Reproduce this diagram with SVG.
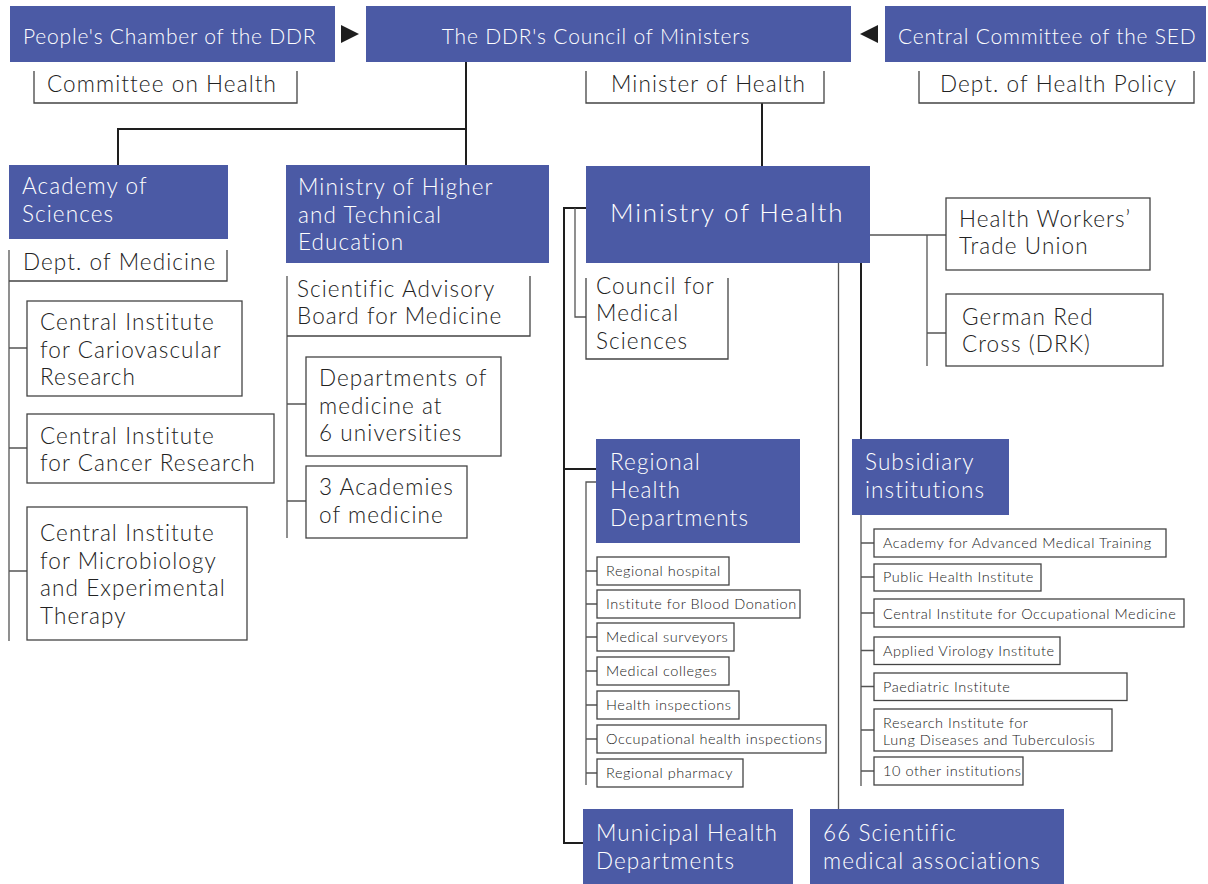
<svg xmlns="http://www.w3.org/2000/svg" width="1208" height="884" viewBox="0 0 1208 884">
<style>
.blue{fill:#4b5aa5}
.box{fill:#fff;stroke:#444;stroke-width:1.3}
.open{fill:none;stroke:#444;stroke-width:1.3}
text{font-family:Lato,"Open Sans",sans-serif;font-weight:300}
.w{fill:#fff}
.d{fill:#222}
.t21{font-size:21px;letter-spacing:0.8px}
.t22{font-size:22.5px;letter-spacing:1.1px}
.t26{font-size:26px;letter-spacing:1.8px}
.t15{font-size:14.5px;letter-spacing:0.55px}
.thick{stroke:#1e1e1e;stroke-width:2;fill:none}
.thin{stroke:#555;stroke-width:1.3;fill:none}
.arr{fill:#1e1e1e}
</style>
<rect width="1208" height="884" fill="#fff"/>
<g id="connectors">
<path class="thick" d="M466,62 V165 M466,129 H118 V165 M762,103 V166"/>
<path class="thin" d="M9,250 V641 M9,348 H27 M9,448 H27 M9,571 H27"/>
<path class="thin" d="M287,276 V538 M287,404 H306 M287,501 H306"/>
<path class="thick" d="M586,208 H564 V843 H583 M564,469 H596 M861,263 V439"/>
<path class="thin" d="M575,208 V317 H586 M838.5,263 V809 M870,235 H946 M927,235 V366 M927,333 H946"/>
<path class="thin" d="M596,482 H586 V785 M586,571 H597 M586,604 H597 M586,637 H597 M586,671 H597 M586,705 H597 M586,739 H597 M586,773 H597"/>
<path class="thin" d="M861,515 V786 M861,543 H874 M861,577 H874 M861,613 H874 M861,650.5 H874 M861,686.5 H874 M861,730 H874 M861,771 H874"/>
<polygon class="arr" points="341,25 359,34 341,43"/>
<polygon class="arr" points="878,25 860,34 878,43"/>
</g>
<g id="peoples-chamber"><rect class="blue" x="10" y="6" width="325" height="56"/><text class="w t21" x="23" y="44">People's Chamber of the DDR</text></g>
<g id="council"><rect class="blue" x="366" y="6" width="485" height="56"/><text class="w t21" x="596" y="44" text-anchor="middle">The DDR's Council of Ministers</text></g>
<g id="central-committee"><rect class="blue" x="885" y="6" width="321" height="56"/><text class="w t21" x="898" y="44">Central Committee of the SED</text></g>
<g id="committee-health"><path class="open" d="M34,71 V103 H297 V71"/><text class="d t22" x="47" y="92">Committee on Health</text></g>
<g id="minister-health"><path class="open" d="M586,71 V103 H824 V71"/><text class="d t22" x="611" y="92">Minister of Health</text></g>
<g id="dept-health-policy"><path class="open" d="M919,71 V103 H1194 V71"/><text class="d t22" x="940" y="92">Dept. of Health Policy</text></g>
<g id="academy"><rect class="blue" x="9" y="165" width="219" height="74"/><text class="w t22" x="22"><tspan x="22" y="194">Academy of</tspan><tspan x="22" y="222">Sciences</tspan></text></g>
<g id="dept-medicine"><path class="open" d="M9,281 H227 V250"/><text class="d t22" x="23" y="270">Dept. of Medicine</text></g>
<g id="ci-cardio"><rect class="box" x="27" y="301" width="215" height="95"/><text class="d t22"><tspan x="40" y="330">Central Institute</tspan><tspan x="40" y="357.5">for Cariovascular</tspan><tspan x="40" y="385">Research</tspan></text></g>
<g id="ci-cancer"><rect class="box" x="27" y="414" width="247" height="69"/><text class="d t22"><tspan x="40" y="443.5">Central Institute</tspan><tspan x="40" y="470.5">for Cancer Research</tspan></text></g>
<g id="ci-micro"><rect class="box" x="27" y="507" width="220" height="133"/><text class="d t22"><tspan x="40" y="541">Central Institute</tspan><tspan x="40" y="568.5">for Microbiology</tspan><tspan x="40" y="596">and Experimental</tspan><tspan x="40" y="624">Therapy</tspan></text></g>
<g id="ministry-higher"><rect class="blue" x="286" y="165" width="263" height="98"/><text class="w t22"><tspan x="298" y="195">Ministry of Higher</tspan><tspan x="298" y="222.5">and Technical</tspan><tspan x="298" y="250">Education</tspan></text></g>
<g id="sci-advisory"><path class="open" d="M287,336 H530 V276"/><text class="d t22"><tspan x="297" y="297">Scientific Advisory</tspan><tspan x="297" y="324">Board for Medicine</tspan></text></g>
<g id="dept-univ"><rect class="box" x="306" y="357" width="195" height="99"/><text class="d t22"><tspan x="319" y="386">Departments of</tspan><tspan x="319" y="413.5">medicine at</tspan><tspan x="319" y="441">6 universities</tspan></text></g>
<g id="academies-med"><rect class="box" x="306" y="466" width="161" height="72"/><text class="d t22"><tspan x="319" y="495">3 Academies</tspan><tspan x="319" y="522.5">of medicine</tspan></text></g>
<g id="ministry-health"><rect class="blue" x="586" y="166" width="284" height="97"/><text class="w t26" x="610" y="222">Ministry of Health</text></g>
<g id="council-med"><path class="open" d="M586,278 V359 H728 V278"/><text class="d t22"><tspan x="596" y="293.5">Council for</tspan><tspan x="596" y="321">Medical</tspan><tspan x="596" y="348.5">Sciences</tspan></text></g>
<g id="trade-union"><rect class="box" x="946" y="198" width="204" height="72"/><text class="d t22"><tspan x="959" y="227">Health Workers’</tspan><tspan x="959" y="254">Trade Union</tspan></text></g>
<g id="drk"><rect class="box" x="946" y="294" width="217" height="72"/><text class="d t22"><tspan x="962" y="324.5">German Red</tspan><tspan x="962" y="352">Cross (DRK)</tspan></text></g>
<g id="regional"><rect class="blue" x="596" y="439" width="204" height="104"/><text class="w t22"><tspan x="610" y="470">Regional</tspan><tspan x="610" y="498">Health</tspan><tspan x="610" y="526">Departments</tspan></text></g>
<g id="reg-hospital"><rect class="box" x="597" y="557" width="132" height="28"/><text class="d t15" x="606" y="576">Regional hospital</text></g>
<g id="blood"><rect class="box" x="597" y="590" width="203" height="28"/><text class="d t15" x="606" y="609">Institute for Blood Donation</text></g>
<g id="surveyors"><rect class="box" x="597" y="623" width="137" height="28"/><text class="d t15" x="606" y="642">Medical surveyors</text></g>
<g id="colleges"><rect class="box" x="597" y="657" width="132" height="28"/><text class="d t15" x="606" y="676">Medical colleges</text></g>
<g id="health-insp"><rect class="box" x="597" y="691" width="142" height="28"/><text class="d t15" x="606" y="710">Health inspections</text></g>
<g id="occ-insp"><rect class="box" x="597" y="725" width="229" height="28"/><text class="d t15" x="606" y="744">Occupational health inspections</text></g>
<g id="pharmacy"><rect class="box" x="597" y="759" width="146" height="28"/><text class="d t15" x="606" y="778">Regional pharmacy</text></g>
<g id="subsidiary"><rect class="blue" x="852" y="439" width="157" height="76"/><text class="w t22"><tspan x="865" y="470">Subsidiary</tspan><tspan x="865" y="498">institutions</tspan></text></g>
<g id="academy-training"><rect class="box" x="874" y="529" width="292" height="28"/><text class="d t15" x="883" y="548">Academy for Advanced Medical Training</text></g>
<g id="public-health"><rect class="box" x="874" y="564" width="167" height="27"/><text class="d t15" x="883" y="582">Public Health Institute</text></g>
<g id="ci-occ"><rect class="box" x="874" y="599" width="310" height="28"/><text class="d t15" x="883" y="618.5">Central Institute for Occupational Medicine</text></g>
<g id="virology"><rect class="box" x="874" y="637" width="186" height="27.5"/><text class="d t15" x="883" y="655.5">Applied Virology Institute</text></g>
<g id="paediatric"><rect class="box" x="874" y="673" width="253" height="27.5"/><text class="d t15" x="883" y="691.5">Paediatric Institute</text></g>
<g id="lung"><rect class="box" x="874" y="709" width="238" height="42"/><text class="d t15"><tspan x="883" y="727.5">Research Institute for</tspan><tspan x="883" y="745">Lung Diseases and Tuberculosis</tspan></text></g>
<g id="other10"><rect class="box" x="874" y="757" width="149" height="28"/><text class="d t15" x="883" y="776">10 other institutions</text></g>
<g id="municipal"><rect class="blue" x="583" y="809" width="210" height="75"/><text class="w t22"><tspan x="596" y="841">Municipal Health</tspan><tspan x="596" y="868.5">Departments</tspan></text></g>
<g id="scientific-assoc"><rect class="blue" x="810" y="809" width="254" height="75"/><text class="w t22"><tspan x="823" y="841">66 Scientific</tspan><tspan x="823" y="868.5">medical associations</tspan></text></g>
</svg>
